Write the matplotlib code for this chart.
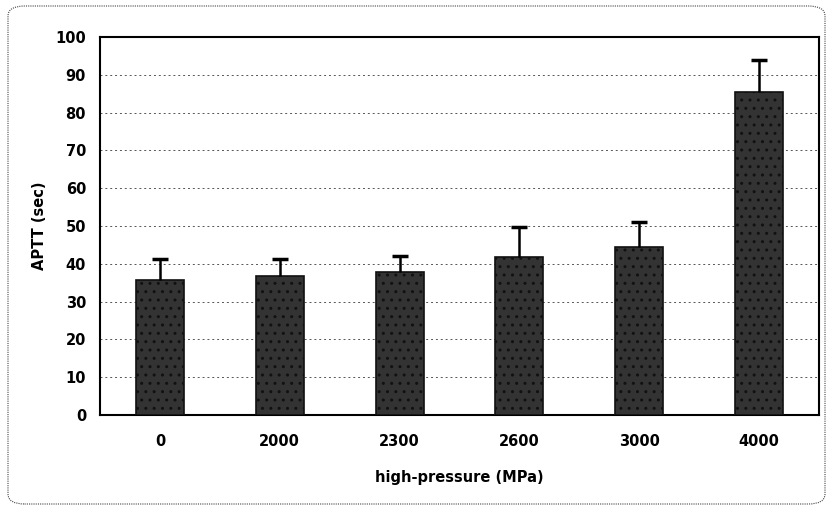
import matplotlib
matplotlib.use("Agg")
import matplotlib.pyplot as plt
from matplotlib.patches import FancyBboxPatch
import numpy as np

categories = ["0", "2000", "2300", "2600", "3000", "4000"]
aptt = [35.7, 36.8, 37.7, 41.9, 44.5, 85.4]
aptt_err = [5.7, 4.6, 4.3, 7.8, 6.5, 8.6]
yticks = [0, 10, 20, 30, 40, 50, 60, 70, 80, 90, 100]

plt.rcParams['font.family'] = ['Liberation Sans Narrow', 'DejaVu Sans']
plt.rcParams['hatch.color'] = '#d0d0d0'
plt.rcParams['hatch.linewidth'] = 1.0

fig = plt.figure(figsize=(8.29, 5.09), dpi=100)
ax = fig.add_axes([100/829, 1-415/509, 719/829, (415-37)/509])

x = np.arange(len(categories))
ax.bar(x, aptt, width=0.4, color='#333333', edgecolor='#111111', hatch='..', linewidth=1.2, zorder=3)
ax.errorbar(x, aptt, yerr=[np.zeros(len(aptt)), aptt_err], fmt='none', ecolor='black',
            elinewidth=1.8, capsize=0, zorder=4)
tops = np.array(aptt) + np.array(aptt_err)
ax.plot(x, tops, linestyle='none', marker='_', markersize=11, markeredgewidth=2.5,
        color='black', zorder=5)

ax.set_xlim(-0.5, len(categories) - 0.5)
ax.set_ylim(0, 100)
ax.set_yticks(yticks)
ax.set_xticks(x)
ax.set_xticklabels(categories, fontsize=10.5, fontweight='bold')
ax.set_yticklabels([str(t) for t in yticks], fontsize=10.5, fontweight='bold')
ax.tick_params(axis='both', length=0, pad=10)
ax.tick_params(axis='x', pad=14)
ax.yaxis.grid(True, linestyle=(0, (2, 3)), color='#555555', linewidth=0.7, zorder=0)
for s in ax.spines.values():
    s.set_linewidth(1.5)
    s.set_color('black')

ax.set_xlabel('high-pressure (MPa)', fontsize=10.5, fontweight='bold', labelpad=15)
ax.set_ylabel('APTT (sec)', fontsize=10.5, fontweight='bold', labelpad=6)

border = FancyBboxPatch((8/829, 5/509), (817/829), (498/509),
                        boxstyle="round,pad=0,rounding_size=0.02",
                        transform=fig.transFigure, fill=False,
                        edgecolor='#444444', linewidth=0.8, linestyle=(0, (1, 1)))
fig.patches.append(border)

fig.savefig('out.png', dpi=100)
